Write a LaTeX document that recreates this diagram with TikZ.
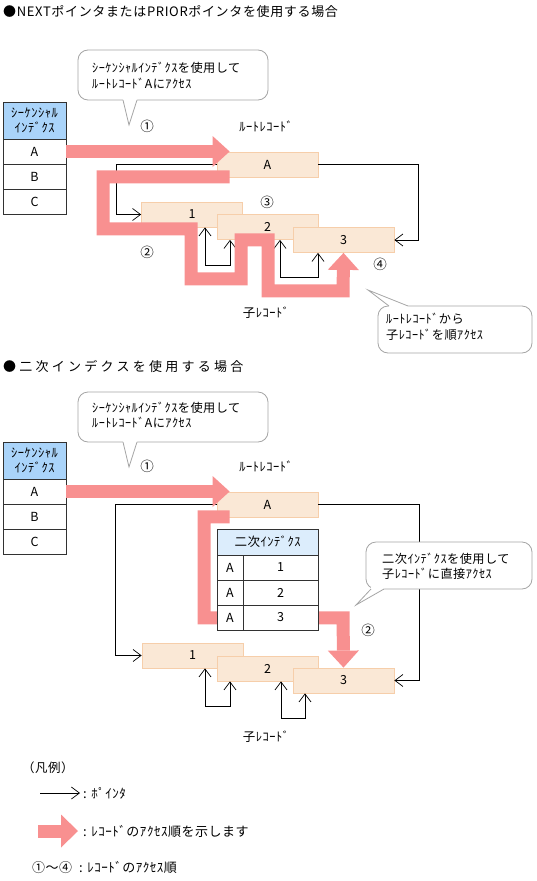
\documentclass[tikz,border=0pt]{standalone}
\usepackage{fontspec}
\setmainfont{Noto Sans CJK JP}[LetterSpace=4]
\newfontfamily\tA{Noto Sans CJK JP}[LetterSpace=5]
\newfontfamily\tB{Noto Sans CJK JP}[LetterSpace=25]
\usetikzlibrary{arrows.meta,calc}
\definecolor{pinkc}{RGB}{248,144,144}
\definecolor{recfill}{RGB}{250,232,214}
\definecolor{recline}{RGB}{246,206,170}
\definecolor{seqhead}{RGB}{170,212,250}
\definecolor{sechead}{RGB}{220,237,252}
\definecolor{tabline}{RGB}{50,50,50}
\definecolor{callline}{RGB}{165,165,165}
\begin{document}
\begin{tikzpicture}[x=1pt,y=-1pt,
  every node/.style={inner sep=0pt, font=\fontsize{12.5}{15}\selectfont},
  rec/.style={draw=recline, fill=recfill, line width=0.8pt, minimum width=101pt, minimum height=25pt},
  cell/.style={draw=tabline, fill=white, line width=0.9pt, minimum height=25pt},
  seqcell/.style={cell, minimum width=63pt},
  headcell/.style={cell, fill=seqhead, minimum width=63pt, minimum height=37pt, align=center},
  ptr/.style={line width=0.7pt, -{Straight Barb[length=8pt,width=12pt]}},
  ptrboth/.style={line width=0.7pt, {Straight Barb[length=8pt,width=12pt]}-{Straight Barb[length=8pt,width=12pt]}},
  pinkpath/.style={draw=pinkc, line width=13pt, line join=miter},
  pinkarrow/.style={pinkpath, -{Triangle[length=17pt,width=31pt,line width=0pt]}},
  callbox/.style={draw=callline, fill=white, line width=0.8pt, rounded corners=10pt},
  callsides/.style={draw=callline, line width=0.8pt},
  calltext/.style={anchor=west, align=left, font=\fontsize{12.2}{15.5}\selectfont},
  lab/.style={font=\fontsize{13.5}{15}\selectfont},
  legtext/.style={anchor=west, font=\fontsize{13}{15}\selectfont}
]
\useasboundingbox (0,0) rectangle (536,881);

% ===== titles =====
\node[anchor=west, font=\tA\fontsize{13}{15}\selectfont] (title1) at (3,12) {●NEXTポインタまたはPRIORポインタを使用する場合};
\node[anchor=west, font=\tB\fontsize{13}{15}\selectfont] (title2) at (3,367) {●二次インデクスを使用する場合};

% ===== top section =====
\node[callbox, minimum width=190pt, minimum height=50pt] (c1) at (173,75) {};
\fill[white] (123,98) -- (123,100) -- (129,125) -- (137,100) -- (137,98) -- cycle;
\draw[callsides] (123,100) -- (129,125) -- (137,100);
\node[calltext] (c1t) at (92,75.5) {ｼｰｹﾝｼｬﾙｲﾝﾃﾞｸｽを使用して\\ﾙｰﾄﾚｺｰﾄﾞAにｱｸｾｽ};

\node[headcell] (sh1) at (34.5,120.5) {ｼｰｹﾝｼｬﾙ\\ｲﾝﾃﾞｸｽ};
\node[seqcell] (sA) at (34.5,151.5) {A};
\node[seqcell] (sB) at (34.5,176.5) {B};
\node[seqcell] (sC) at (34.5,201.5) {C};

\node[lab] (n1a) at (147,126) {①};
\node (rootA) at (266,126) {ﾙｰﾄﾚｺｰﾄﾞ};
\node[lab] (n3a) at (267,202) {③};
\node[lab] (n2a) at (147,252) {②};
\node[lab] (n4a) at (380,264) {④};
\node (childA) at (266,313) {子ﾚｺｰﾄﾞ};

\node[rec] (tA) at (267.5,164.5) {A};
\node[rec] (t1) at (192,214.5) {1};
\node[rec] (t2) at (267.5,227) {2};
\node[rec] (t3) at (343.5,240) {3};

\draw[ptr] (tA.east) -- ++(100,0) |- (t3.east);
\draw[ptr] (tA.west) -- ++(-100,0) |- (t1.west);
\draw[ptrboth] ($(t1.south)+(13,0)$) -- ++(0,38) -| ($(t2.south)+(-37.5,0)$);
\draw[ptrboth] ($(t2.south)+(12.5,0)$) -- ++(0,37) -| ($(t3.south)+(-25.5,0)$);

\coordinate (tipA) at ($(tA.west)+(13,0)$);
\draw[pinkarrow] (sA.east) -- (sA.east -| tipA);
\draw[pinkarrow] ($(tA.south west)+(13,-0.5)$) -- ++(-126.5,0) -- ++(0,52) -- ++(88,0) -- ++(0,50) -- ++(50,0) -- ++(0,-39) -- ++(27,0) -- ++(0,51) -- ++(75,0) -- (t3.south);

\node[callbox, minimum width=154pt, minimum height=47pt] (c2) at (455,329.5) {};
\fill[white] (389,308) -- (389,306) -- (368,290) -- (408,306) -- (408,308) -- cycle;
\draw[callsides] (389,306) -- (368,290) -- (408,306);
\node[calltext] (c2t) at (386,327) {ﾙｰﾄﾚｺｰﾄﾞから\\子ﾚｺｰﾄﾞを順ｱｸｾｽ};

% ===== bottom section =====
\node[callbox, minimum width=190pt, minimum height=50pt] (c3) at (173,417) {};
\fill[white] (123,440) -- (123,442) -- (129,467) -- (137,442) -- (137,440) -- cycle;
\draw[callsides] (123,442) -- (129,467) -- (137,442);
\node[calltext] (c3t) at (92,415) {ｼｰｹﾝｼｬﾙｲﾝﾃﾞｸｽを使用して\\ﾙｰﾄﾚｺｰﾄﾞAにｱｸｾｽ};

\node[headcell] (sh2) at (34.5,460.5) {ｼｰｹﾝｼｬﾙ\\ｲﾝﾃﾞｸｽ};
\node[seqcell] (uA) at (34.5,491.5) {A};
\node[seqcell] (uB) at (34.5,516.5) {B};
\node[seqcell] (uC) at (34.5,541.5) {C};

\node[lab] (n1b) at (147,466) {①};
\node (rootB) at (266,466) {ﾙｰﾄﾚｺｰﾄﾞ};
\node[lab] (n2b) at (368,630) {②};
\node (childB) at (266,737) {子ﾚｺｰﾄﾞ};

\node[rec] (bA) at (267.5,504.5) {A};
\node[rec] (b1) at (192.5,655.5) {1};
\node[rec] (b2) at (267.5,668.5) {2};
\node[rec] (b3) at (343.5,680.5) {3};

\draw[ptr] (bA.east) -- ++(101,0) |- (b3.east);
\draw[ptr] (bA.west) -- ++(-101,0) |- (b1.west);
\draw[ptrboth] ($(b1.south)+(12.5,0)$) -- ++(0,38) -| ($(b2.south)+(-37.5,0)$);
\draw[ptrboth] ($(b2.south)+(13.5,0)$) -- ++(0,37) -| ($(b3.south)+(-38.5,0)$);

\coordinate (tipB) at ($(bA.west)+(13,0)$);
\draw[pinkarrow] (uA.east) -- (uA.east -| tipB);
\draw[pinkarrow] ($(bA.south west)+(13,-0.5)$) -- ++(-25.5,0) -- ++(0,101) -- ++(139,0) -- (b3.north);

\node[cell, fill=sechead, minimum width=101pt, minimum height=26pt] (xh) at (267.5,542) {二次ｲﾝﾃﾞｸｽ};
\node[cell, minimum width=26pt] (x1a) at (230,567.5) {A};
\node[cell, minimum width=75pt] (x1b) at (280.5,567.5) {1};
\node[cell, minimum width=26pt] (x2a) at (230,592.5) {A};
\node[cell, minimum width=75pt] (x2b) at (280.5,592.5) {2};
\node[cell, minimum width=26pt] (x3a) at (230,617.5) {A};
\node[cell, minimum width=75pt] (x3b) at (280.5,617.5) {3};

\node[callbox, minimum width=166pt, minimum height=47pt] (c4) at (449,565.5) {};
\fill[white] (371,587) -- (371,589) -- (356,605) -- (384,589) -- (384,587) -- cycle;
\draw[callsides] (371,589) -- (356,605) -- (384,589);
\node[calltext] (c4t) at (382,566.5) {二次ｲﾝﾃﾞｸｽを使用して\\子ﾚｺｰﾄﾞに直接ｱｸｾｽ};

% ===== legend =====
\node[anchor=west] (lg) at (22,768) {（凡例）};
\coordinate (lp1) at (40,793);
\coordinate (lp2) at (80,793);
\draw[ptr] (lp1) -- (lp2);
\node[legtext] (lt1) at (83,793) {: ﾎﾟｲﾝﾀ};
\coordinate (lq1) at (38,831);
\coordinate (lq2) at (78,831);
\draw[pinkpath, -{Triangle[length=17pt,width=33pt,line width=0pt]}] (lq1) -- (lq2);
\node[legtext] (lt2) at (83,831) {: ﾚｺｰﾄﾞのｱｸｾｽ順を示します};
\node[legtext] (lt3) at (32,868) {①～④\ \ : ﾚｺｰﾄﾞのｱｸｾｽ順};
\end{tikzpicture}
\end{document}
